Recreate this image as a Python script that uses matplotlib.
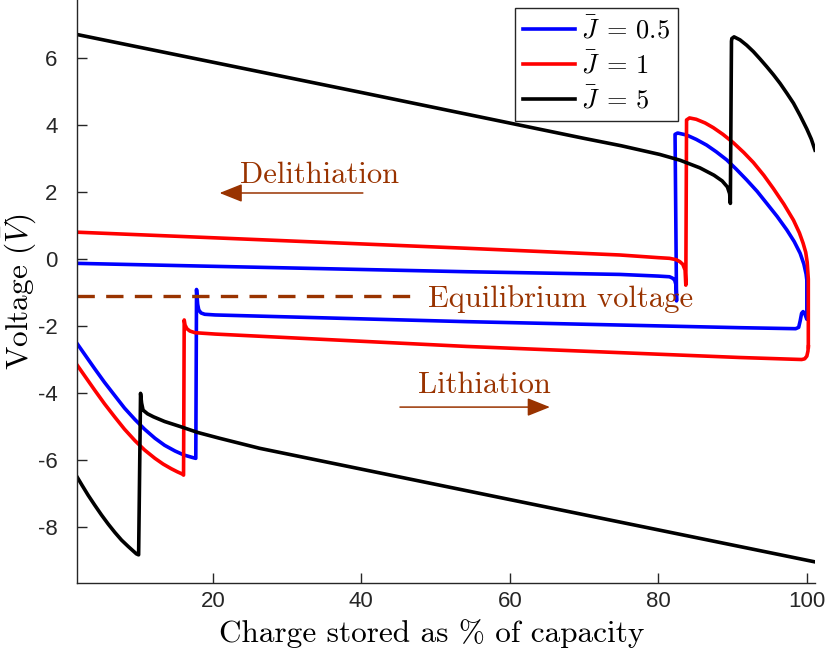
import matplotlib
matplotlib.use('Agg')
import matplotlib.pyplot as plt

# fonts: MATLAB-like sans ticks, LaTeX-like labels
plt.rcParams['font.family'] = 'Liberation Sans'
plt.rcParams['mathtext.fontset'] = 'cm'
plt.rcParams['axes.unicode_minus'] = False

brown = (0.6, 0.2, 0.0)
axis_gray = (0.15, 0.15, 0.15)

# J = 0.5 (blue)
blue_lith_x = [1.7, 2.9, 4.1, 5.4, 6.8, 8.1, 9.5, 10.8, 12.2, 13.5, 14.9, 16.1, 17.35, 17.7,
               17.8, 17.95, 18.1, 18.4, 18.9, 20.3, 54.2, 91.0, 98.5, 98.9, 99.1, 99.3, 99.5, 99.75,
               100.0, 100.0]
blue_lith_y = [-2.52, -2.90, -3.28, -3.68, -4.08, -4.45, -4.79, -5.08, -5.35, -5.56, -5.73, -5.85, -5.93,
               -5.95, -0.91, -1.35, -1.52, -1.61, -1.65, -1.67, -1.87, -2.05, -2.08, -2.04, -1.85,
               -1.62, -1.57, -1.65, -1.80, -0.63]
blue_delith_x = [1.7, 18.25, 54.2, 74.8, 80.0, 81.5, 81.9, 82.2, 82.35, 82.4, 82.45, 82.25, 82.6, 83.8,
                 85.1, 86.5, 87.8, 89.2, 90.5, 91.9, 93.3, 94.6, 96.0, 97.3, 98.3, 99.1, 99.6, 99.9,
                 100.0]
blue_delith_y = [-0.13, -0.21, -0.38, -0.46, -0.51, -0.53, -0.57, -0.63, -0.75, -0.87, -1.25, 3.72, 3.76,
                 3.70, 3.57, 3.40, 3.20, 2.96, 2.68, 2.36, 2.02, 1.66, 1.27, 0.87, 0.52, 0.17, -0.15,
                 -0.45, -0.63]

# J = 1 (red)
red_lith_x = [1.7, 2.9, 4.1, 5.4, 6.8, 8.1, 9.5, 10.8, 12.2, 13.3, 14.4, 15.2, 15.9, 16.05,
              16.14, 16.25, 16.5, 16.9, 17.6, 20.3, 54.2, 91.0, 99.3, 99.7, 100.0, 100.15, 100.2]
red_lith_y = [-3.16, -3.54, -3.92, -4.32, -4.72, -5.08, -5.42, -5.70, -5.95, -6.12, -6.26, -6.35, -6.42,
              -6.45, -1.82, -1.97, -2.08, -2.15, -2.20, -2.24, -2.61, -2.94, -3.00, -2.98, -2.90, -2.75,
              -2.62]
red_delith_x = [1.7, 18.25, 54.2, 74.8, 80.0, 81.5, 82.4, 82.9, 83.3, 83.6, 83.7, 83.8, 84.2, 85.1, 86.3,
                87.4, 88.7, 90.1, 91.5, 92.8, 94.2, 95.5, 96.9, 98.2, 99.0, 99.5, 99.85, 100.05, 100.2,
                100.2]
red_delith_y = [0.80, 0.65, 0.32, 0.12, 0.04, 0.02, -0.02, -0.08, -0.16, -0.33, -0.78, 4.15, 4.21, 4.17,
                4.06, 3.92, 3.72, 3.47, 3.18, 2.88, 2.50, 2.10, 1.64, 1.16, 0.78, 0.47, 0.20, -0.10,
                -0.60, -2.62]

# J = 5 (black)
black_lith_x = [1.7, 2.4, 3.2, 4.1, 5.0, 5.9, 6.8, 7.7, 8.6, 9.2, 9.7, 10.0, 10.26, 10.4, 10.6, 11.2,
                12.0, 13.5, 15.6, 18.0, 20.9, 26.3, 60.0, 101.1]
black_lith_y = [-6.50, -6.76, -7.05, -7.35, -7.64, -7.91, -8.16, -8.39, -8.58, -8.70, -8.80, -8.83, -4.01,
                -4.30, -4.51, -4.62, -4.71, -4.85, -5.00, -5.18, -5.35, -5.65, -7.18, -9.04]
black_delith_x = [1.7, 40.0, 70.0, 75.0, 78.0, 80.2, 82.9, 85.6, 87.5, 88.6, 89.3, 89.6, 89.7, 89.85,
                  89.9, 90.2, 91.0, 91.9, 92.8, 93.7, 94.6, 95.5, 96.4, 97.3, 98.2, 99.1, 100.0,
                  100.6, 101.1]
black_delith_y = [6.70, 4.97, 3.60, 3.38, 3.23, 3.12, 2.95, 2.72, 2.50, 2.33, 2.15, 1.95, 1.66, 6.50,
                  6.58, 6.63, 6.54, 6.38, 6.19, 5.97, 5.74, 5.50, 5.24, 4.95, 4.65, 4.28, 3.88, 3.58,
                  3.25]

labels = [r'$\bar{J}\;=\,0.5$', r'$\bar{J}\;=\,1$', r'$\bar{J}\;=\,5$']

eq_x = [1.7, 47.6]
eq_y = [-1.1, -1.1]

fig = plt.figure(figsize=(8.3, 6.55), dpi=100)
ax = fig.add_axes([77 / 830, 72 / 655, 738 / 830, 583 / 655])

lw = 2.6
ax.plot(blue_lith_x, blue_lith_y, color='b', lw=lw, label=labels[0])
ax.plot(blue_delith_x, blue_delith_y, color='b', lw=lw)
ax.plot(red_lith_x, red_lith_y, color='r', lw=lw, label=labels[1])
ax.plot(red_delith_x, red_delith_y, color='r', lw=lw)
ax.plot(black_lith_x, black_lith_y, color='k', lw=lw, label=labels[2])
ax.plot(black_delith_x, black_delith_y, color='k', lw=lw)

ax.plot(eq_x, eq_y, color=brown, lw=2.4, dashes=(5.2, 3.4))

txt = dict(color=brown, fontsize=22, fontfamily='cmr10', va='baseline', ha='left')
ax.text(23.6, 2.27, 'Delithiation', **txt)
ax.text(49.0, -1.42, 'Equilibrium voltage', **txt)
ax.text(47.6, -4.01, 'Lithiation', **txt)

arrow = dict(arrowstyle='-|>,head_length=0.7,head_width=0.28', color=brown, lw=1.1,
             shrinkA=0, shrinkB=0, mutation_scale=20)
ax.annotate('', xy=(20.9, 1.97), xytext=(40.2, 1.97), arrowprops=arrow)
ax.annotate('', xy=(65.4, -4.42), xytext=(45.2, -4.42), arrowprops=arrow)

ax.set_xlim(1.7, 101.1)
ax.set_ylim(-9.67, 7.73)
ax.set_xticks([20, 40, 60, 80, 100])
ax.set_yticks([-8, -6, -4, -2, 0, 2, 4, 6])

for side in ['top', 'right']:
    ax.spines[side].set_visible(False)
for side in ['left', 'bottom']:
    ax.spines[side].set_color(axis_gray)
    ax.spines[side].set_linewidth(1.0)
ax.tick_params(direction='in', length=7, width=1.0, color=axis_gray, labelcolor=axis_gray,
               labelsize=16)
ax.tick_params(axis='y', pad=14)
ax.tick_params(axis='x', pad=6)

ax.set_xlabel('Charge stored as % of capacity', fontsize=22.5, fontfamily='cmr10')
ax.set_ylabel(r'Voltage ($\bar{V}$)', fontsize=22.5, fontfamily='cmr10')
ax.xaxis.set_label_coords(0.481, -0.062)
ax.yaxis.set_label_coords(-0.053, 0.5)

leg = ax.legend(loc='upper right', bbox_to_anchor=(0.814, 0.986), fontsize=19, fancybox=False,
                edgecolor=axis_gray, framealpha=1, handlelength=2.0, handletextpad=0.2,
                borderpad=0.3, labelspacing=0.3, borderaxespad=0)
leg.get_frame().set_linewidth(1.0)

fig.savefig('out.png', dpi=100)
